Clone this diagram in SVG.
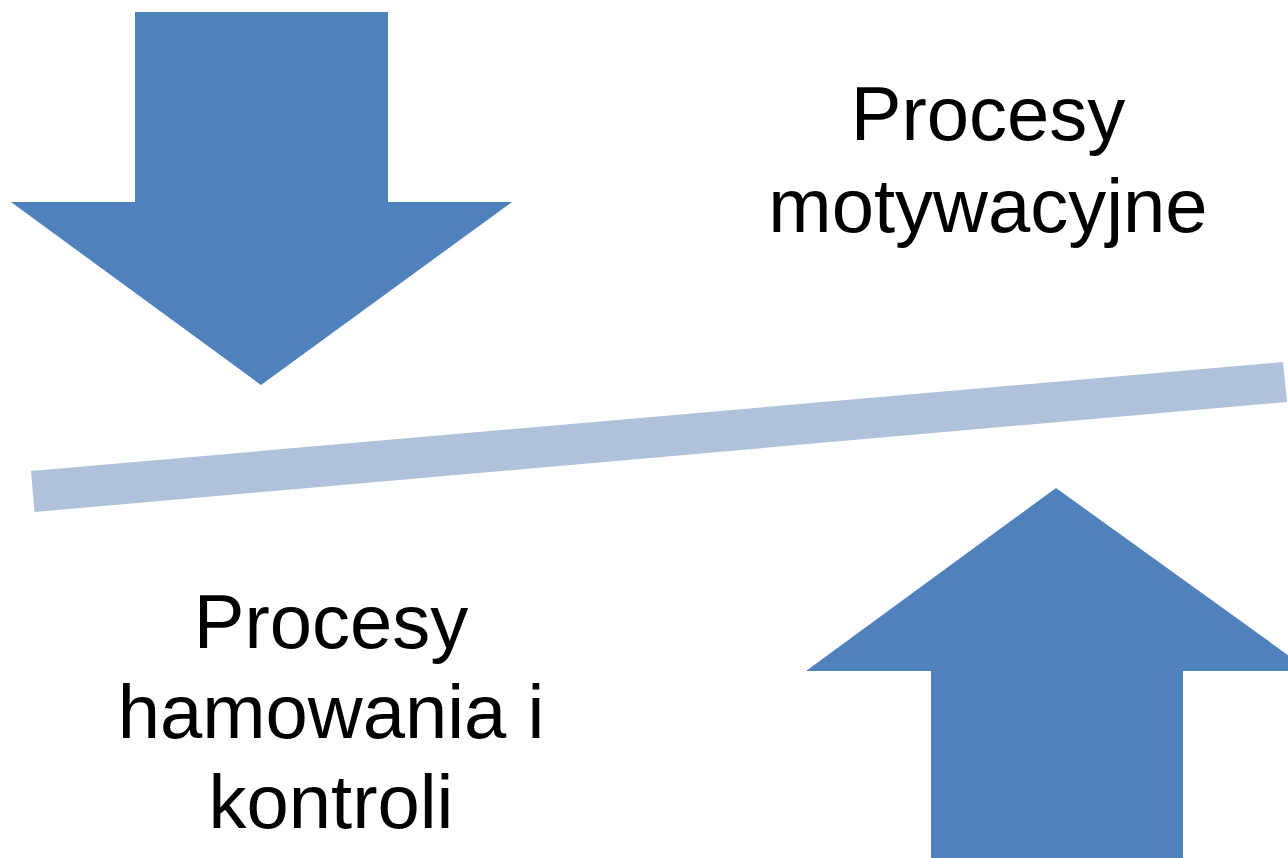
<svg xmlns="http://www.w3.org/2000/svg" width="1288" height="858" viewBox="0 0 1288 858">
<style>
.arrow{fill:#4F81BD}
.bar{fill:#B0C1DC}
.label{font-family:"Liberation Sans",Arial,sans-serif;font-size:76px;fill:#000;text-anchor:middle}
</style>
<rect width="1288" height="858" fill="#fff"/>
<g id="bar"><polygon class="bar" points="31,471 1283,362 1287,402 34.5,512"/></g>
<g id="arrow-down"><polygon class="arrow" points="135,12 388,12 388,202 512,202 261,385 11,202 135,202"/></g>
<g id="arrow-up"><polygon class="arrow" points="1056,488 1310,671 1183,671 1183,858 931,858 931,671 806,671"/></g>
<g id="label-motywacyjne"><text class="label" x="988" y="140">Procesy</text><text class="label" x="988" y="232">motywacyjne</text></g>
<g id="label-hamowania"><text class="label" x="331" y="648">Procesy</text><text class="label" x="331" y="738">hamowania i</text><text class="label" x="331" y="828">kontroli</text></g>
</svg>
